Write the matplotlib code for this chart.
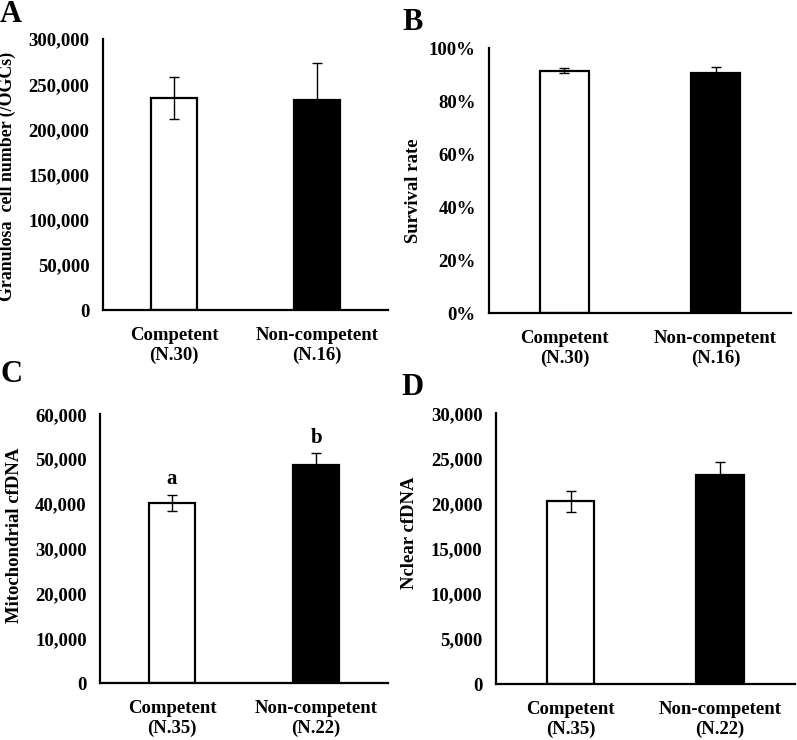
import matplotlib
matplotlib.use("Agg")
import matplotlib.pyplot as plt
from matplotlib.ticker import FuncFormatter

plt.rcParams['font.family'] = ['Liberation Serif', 'DejaVu Serif']
plt.rcParams['font.weight'] = 'bold'

# data
groups_ab = ['Competent\n(N.30)', 'Non-competent\n(N.16)']
groups_cd = ['Competent\n(N.35)', 'Non-competent\n(N.22)']

gc_number = [235000, 233000]
gc_number_err = [23000, 41000]

survival = [0.915, 0.905]
survival_err = [0.008, 0.022]

mito_cfdna = [40300, 48700]
mito_cfdna_err = [1750, 2700]
mito_letters = ['a', 'b']

nuc_cfdna = [20250, 23150]
nuc_cfdna_err = [1160, 1500]

bar_colors = ['white', 'black']
FS = 13.5

fig = plt.figure(figsize=(7.97, 7.4), dpi=100)

# axes boxes in figure fractions (left, bottom, width, height)
ax_a = fig.add_axes([0.129, 0.581, 0.358, 0.366])
ax_b = fig.add_axes([0.6135, 0.577, 0.379, 0.358])
ax_c = fig.add_axes([0.1255, 0.0766, 0.3615, 0.3634])
ax_d = fig.add_axes([0.622, 0.0753, 0.3755, 0.3662])

comma = FuncFormatter(lambda v, p: f'{int(v):,}')
pct = FuncFormatter(lambda v, p: f'{v * 100:.0f}%')


def draw_panel(ax, labels, vals, errs, ymax, ystep, fmt, ylabel, lab_xy, lab_fs=FS):
    x = range(len(vals))
    ax.bar(x, vals, width=0.32, color=bar_colors, edgecolor='black', linewidth=1.6, zorder=2)
    ax.errorbar(x, vals, yerr=errs, fmt='none', ecolor='black', elinewidth=1.0,
                capsize=3.5, capthick=1.0, zorder=3)
    ax.set_xlim(-0.5, 1.5)
    ax.set_ylim(0, ymax)
    ax.set_yticks([i * ystep for i in range(int(round(ymax / ystep)) + 1)])
    ax.yaxis.set_major_formatter(fmt)
    ax.set_xticks(list(x))
    ax.set_xticklabels(labels, fontsize=FS, fontweight='bold')
    ax.tick_params(axis='y', length=0, pad=9.5, labelsize=FS)
    ax.tick_params(axis='x', length=0, pad=12)
    for lbl in ax.get_yticklabels():
        lbl.set_fontweight('bold')
    for s in ['top', 'right']:
        ax.spines[s].set_visible(False)
    for s in ['left', 'bottom']:
        ax.spines[s].set_linewidth(1.6)
    ax.set_ylabel(ylabel, fontsize=lab_fs, fontweight='bold')
    ax.yaxis.set_label_coords(*lab_xy)


draw_panel(ax_a, groups_ab, gc_number, gc_number_err, 300000, 50000, comma,
           'Granulosa  cell number (/OGCs)', (-0.305, 0.494), lab_fs=12.9)
draw_panel(ax_b, groups_ab, survival, survival_err, 1.0, 0.2, pct,
           'Survival rate', (-0.222, 0.46))
draw_panel(ax_c, groups_cd, mito_cfdna, mito_cfdna_err, 60000, 10000, comma,
           'Mitochondrial cfDNA', (-0.267, 0.549))
draw_panel(ax_d, groups_cd, nuc_cfdna, nuc_cfdna_err, 30000, 5000, comma,
           'Nclear cfDNA', (-0.261, 0.56))

# significance letters
for i, (v, e, t) in enumerate(zip(mito_cfdna, mito_cfdna_err, mito_letters)):
    ax_c.text(i, v + e + 1200, t, ha='center', va='bottom', fontsize=15, fontweight='bold')

# panel letters
for (px, py), t in zip([(0, 0), (402, 8), (0, 360), (401, 373)], 'ABCD'):
    fig.text(px / 797, 1 - py / 740, t, ha='left', va='top', fontsize=22, fontweight='bold')

fig.savefig('out.png', dpi=100)
